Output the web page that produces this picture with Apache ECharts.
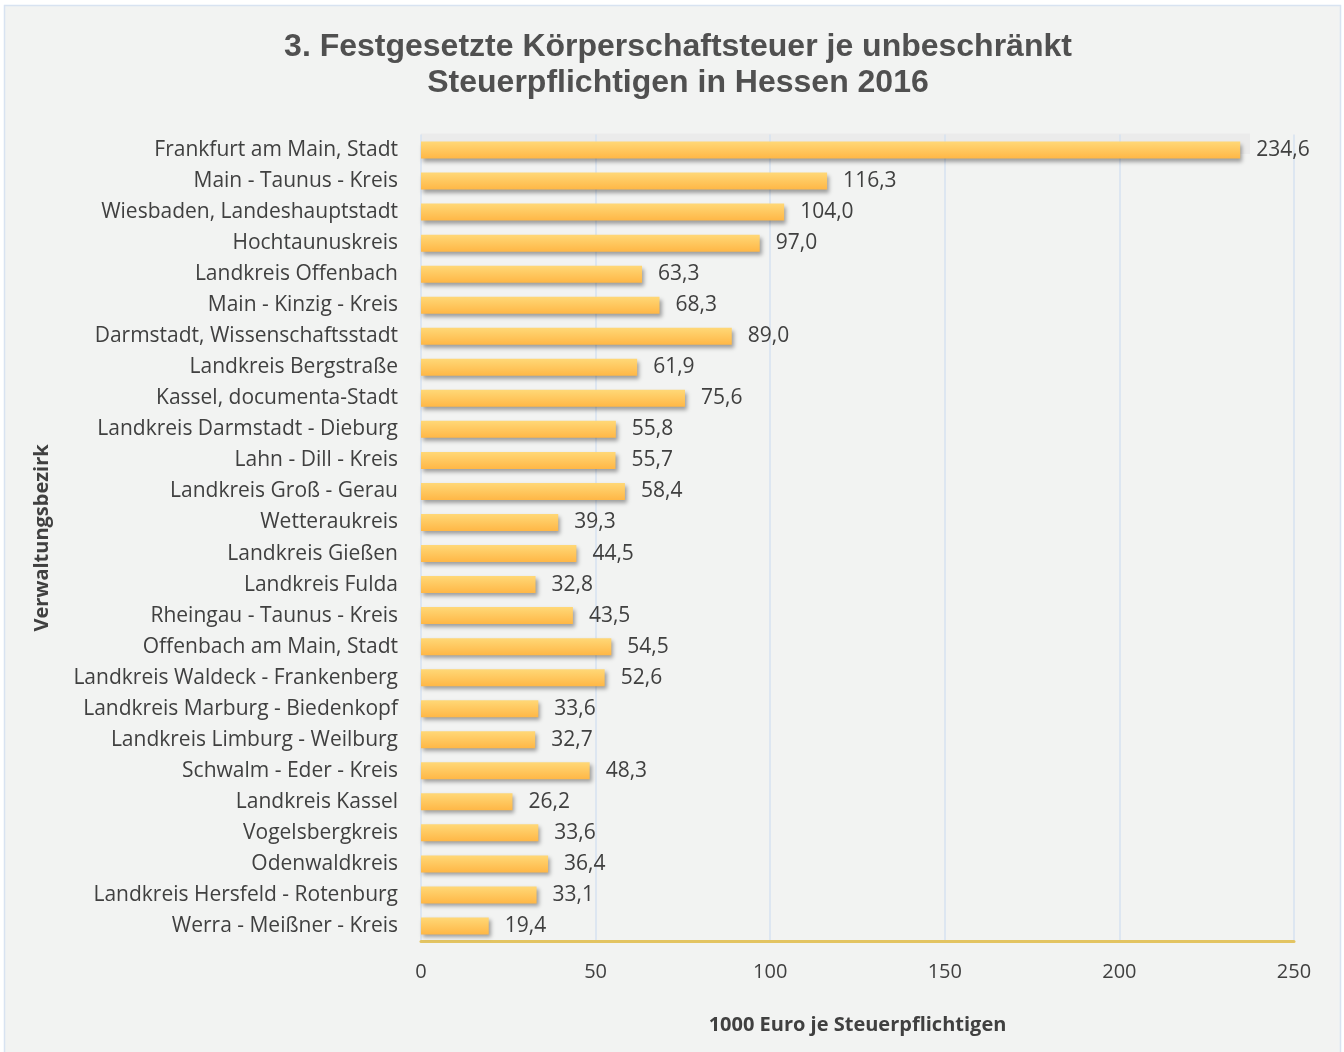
<!DOCTYPE html>
<html>
<head>
<meta charset="utf-8">
<script src="https://cdn.jsdelivr.net/npm/echarts@6/dist/echarts.min.js"></script>
<style>
  html, body { margin: 0; padding: 0; background: #ffffff; }
  #chart { width: 1344px; height: 1052px; }
</style>
</head>
<body>
<div id="chart"></div>
<script>
// Verwaltungsbezirke (von oben nach unten)
const districts = [
  'Frankfurt am Main, Stadt',
  'Main - Taunus - Kreis',
  'Wiesbaden, Landeshauptstadt',
  'Hochtaunuskreis',
  'Landkreis Offenbach',
  'Main - Kinzig - Kreis',
  'Darmstadt, Wissenschaftsstadt',
  'Landkreis Bergstraße',
  'Kassel, documenta-Stadt',
  'Landkreis Darmstadt - Dieburg',
  'Lahn - Dill - Kreis',
  'Landkreis Groß - Gerau',
  'Wetteraukreis',
  'Landkreis Gießen',
  'Landkreis Fulda',
  'Rheingau - Taunus - Kreis',
  'Offenbach am Main, Stadt',
  'Landkreis Waldeck - Frankenberg',
  'Landkreis Marburg - Biedenkopf',
  'Landkreis Limburg - Weilburg',
  'Schwalm - Eder - Kreis',
  'Landkreis Kassel',
  'Vogelsbergkreis',
  'Odenwaldkreis',
  'Landkreis Hersfeld - Rotenburg',
  'Werra - Meißner - Kreis'
]
// 1000 Euro je Steuerpflichtigen
const taxPerPayer = [
  234.6, 116.3, 104.0, 97.0, 63.3, 68.3, 89.0, 61.9, 75.6, 55.8, 55.7, 58.4, 39.3,
  44.5, 32.8, 43.5, 54.5, 52.6, 33.6, 32.7, 48.3, 26.2, 33.6, 36.4, 33.1, 19.4
]
const xTicks = [0, 50, 100, 150, 200, 250]
const plotShadeEnd = 237.4 // grauer Hintergrund der Zeichenfläche

const chart = echarts.init(document.getElementById('chart'))
const option = {
  backgroundColor: '#ffffff',
  graphic: [{
    id: 'frame',
    type: 'rect',
    z: -10,
    shape: { x: 4.5, y: 5.5, width: 1336, height: 1060 },
    style: { fill: '#f2f3f2', stroke: '#d8e3f1', lineWidth: 1.5 }
  }],
  title: {
    text: '3. Festgesetzte Körperschaftsteuer je unbeschränkt\nSteuerpflichtigen in Hessen 2016',
    left: 673,
    textAlign: 'center',
    top: 24,
    textStyle: {
      fontFamily: 'Liberation Sans',
      fontWeight: 'bold',
      fontSize: 32,
      lineHeight: 36,
      color: '#505050'
    }
  },
  grid: { left: 421, right: 50, top: 134.5, bottom: 110.5 },
  xAxis: {
    type: 'value',
    min: xTicks[0],
    max: xTicks[xTicks.length - 1],
    interval: 50,
    name: '1000 Euro je Steuerpflichtigen',
    nameLocation: 'middle',
    nameGap: 74,
    nameTextStyle: { fontFamily: 'Open Sans', fontWeight: 'bold', fontSize: 20, color: '#404040' },
    axisLine: { show: true, onZero: false, lineStyle: { color: '#e3c462', width: 3 } },
    axisTick: { show: false },
    axisLabel: { fontFamily: 'Open Sans', fontSize: 20, color: '#404040', margin: 21 },
    splitLine: { show: true, lineStyle: { color: '#d6e2f0', width: 1.5 } }
  },
  yAxis: {
    type: 'category',
    data: districts,
    inverse: true,
    name: 'Verwaltungsbezirk',
    nameLocation: 'middle',
    nameGap: 369,
    nameRotate: 90,
    nameTextStyle: { fontFamily: 'Open Sans', fontWeight: 'bold', fontSize: 20, color: '#404040' },
    axisLine: { show: false },
    axisTick: { show: false },
    axisLabel: { fontFamily: 'Open Sans', fontSize: 21, color: '#404040', margin: 23 }
  },
  series: [{
    type: 'bar',
    data: taxPerPayer,
    barWidth: 17,
    itemStyle: {
      color: {
        type: 'linear', x: 0, y: 0, x2: 0, y2: 1,
        colorStops: [
          { offset: 0, color: '#ffd877' },
          { offset: 1, color: '#ffb746' }
        ]
      },
      shadowColor: 'rgba(0,0,0,0.35)',
      shadowBlur: 4,
      shadowOffsetX: 2,
      shadowOffsetY: 3
    },
    label: {
      show: true,
      position: 'right',
      distance: 16,
      fontFamily: 'Open Sans',
      fontSize: 21,
      color: '#404040',
      formatter: p => p.value.toFixed(1).replace('.', ',')
    }
  }]
}
chart.setOption(option)

// grauer Hintergrund der Zeichenfläche, unter Gitterlinien und Achse
function drawShade() {
  const p0 = chart.convertToPixel({ gridIndex: 0 }, [0, 0])
  const p1 = chart.convertToPixel({ gridIndex: 0 }, [plotShadeEnd, 0])
  const top = 133.5
  const bottom = p0[1] + 4
  chart.setOption({
    graphic: [{
      id: 'shade',
      type: 'rect',
      z: -5,
      shape: { x: p0[0], y: top, width: p1[0] - p0[0], height: bottom - top },
      style: { fill: '#ebebeb' }
    }]
  })
}
drawShade()
window.addEventListener('resize', () => {
  chart.resize()
  drawShade()
})
</script>
</body>
</html>
